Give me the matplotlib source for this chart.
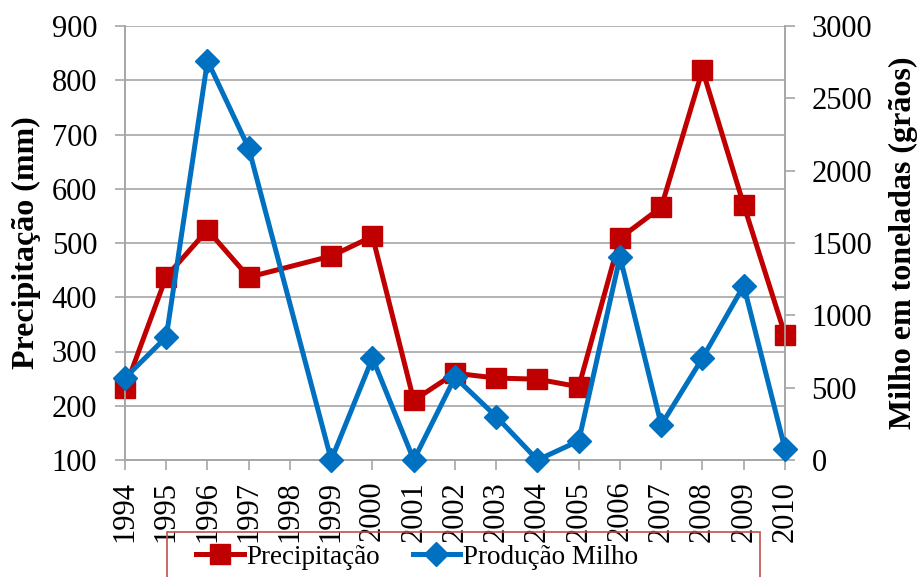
import matplotlib
matplotlib.use("Agg")
import matplotlib.pyplot as plt
import numpy as np
from matplotlib.patches import Rectangle
from matplotlib.lines import Line2D

years = ["1994", "1995", "1996", "1997", "1998", "1999", "2000", "2001", "2002",
         "2003", "2004", "2005", "2006", "2007", "2008", "2009", "2010"]
precip_years = ["1994", "1995", "1996", "1997", "1999", "2000", "2001", "2002",
                "2003", "2004", "2005", "2006", "2007", "2008", "2009", "2010"]
precip = [232, 438, 524, 437, 476, 512, 210, 260, 251, 249, 235, 509, 566, 819, 570, 331]
prod_years = precip_years
prod = [567, 850, 2760, 2155, 0, 705, 0, 572, 300, 0, 132, 1405, 242, 705, 1205, 76]

plt.rcParams['font.family'] = ['Liberation Serif', 'DejaVu Serif']

RED = '#C00000'
BLUE = '#0070C0'
GRID = '#A6A6A6'

fig = plt.figure(figsize=(9.2, 5.77), dpi=100)
ax = fig.add_axes([125/920, 1-460/577, 660/920, 434/577])
ax2 = ax.twinx()

xp = [years.index(y) for y in precip_years]
xq = [years.index(y) for y in prod_years]

ax.plot(xp, precip, color=RED, lw=3.6, marker='s', ms=14.5, zorder=3, clip_on=False)
ax2.plot(xq, prod, color=BLUE, lw=3.6, marker='D', ms=12, zorder=3, clip_on=False)

ax.set_xlim(0, len(years)-1)
ax.set_ylim(100, 900)
ax.set_yticks(np.arange(100, 901, 100))
ax2.set_ylim(0, 3000)
ax2.set_yticks(np.arange(0, 3001, 500))
ax.set_xticks(range(len(years)))
ax.set_xticklabels(years, rotation=90)

ax.grid(axis='y', color=GRID, lw=1.2)
ax.set_axisbelow(True)
for a in (ax, ax2):
    a.spines['top'].set_visible(False)
    for s in ('left', 'right', 'bottom'):
        a.spines[s].set_color(GRID)
        a.spines[s].set_linewidth(1.2)
ax.tick_params(axis='y', labelsize=22, color=GRID, width=1.2, length=7, pad=13)
ax.tick_params(axis='x', labelsize=22, color=GRID, width=1.2, length=7, pad=8)
ax2.tick_params(axis='y', labelsize=22, color=GRID, width=1.2, length=7, pad=12)

ax.set_ylabel('Precipitação (mm)', fontsize=23, fontweight='bold')
ax2.set_ylabel('Milho em toneladas (grãos)', fontsize=23, fontweight='bold')
ax.yaxis.set_label_coords((41-125)/660, 0.5)
ax2.yaxis.set_label_coords((889-125)/660, 0.5)

# legend frame
fig.patches.append(Rectangle((167/920, -0.05), 593/920, 0.05 + (577-532)/577,
                             transform=fig.transFigure, fill=False,
                             edgecolor='#C0504D', lw=1.2))
handles = [Line2D([], [], color=RED, lw=3.6, marker='s', ms=14.5),
           Line2D([], [], color=BLUE, lw=3.6, marker='D', ms=12)]
fig.legend(handles, ['Precipitação', 'Produção Milho'], loc='center',
           bbox_to_anchor=(417/920, 1-557/577), ncol=2, frameon=False,
           fontsize=19.5, handlelength=1.75, handletextpad=0.1, columnspacing=1.2)

fig.savefig('out.png', dpi=100)
